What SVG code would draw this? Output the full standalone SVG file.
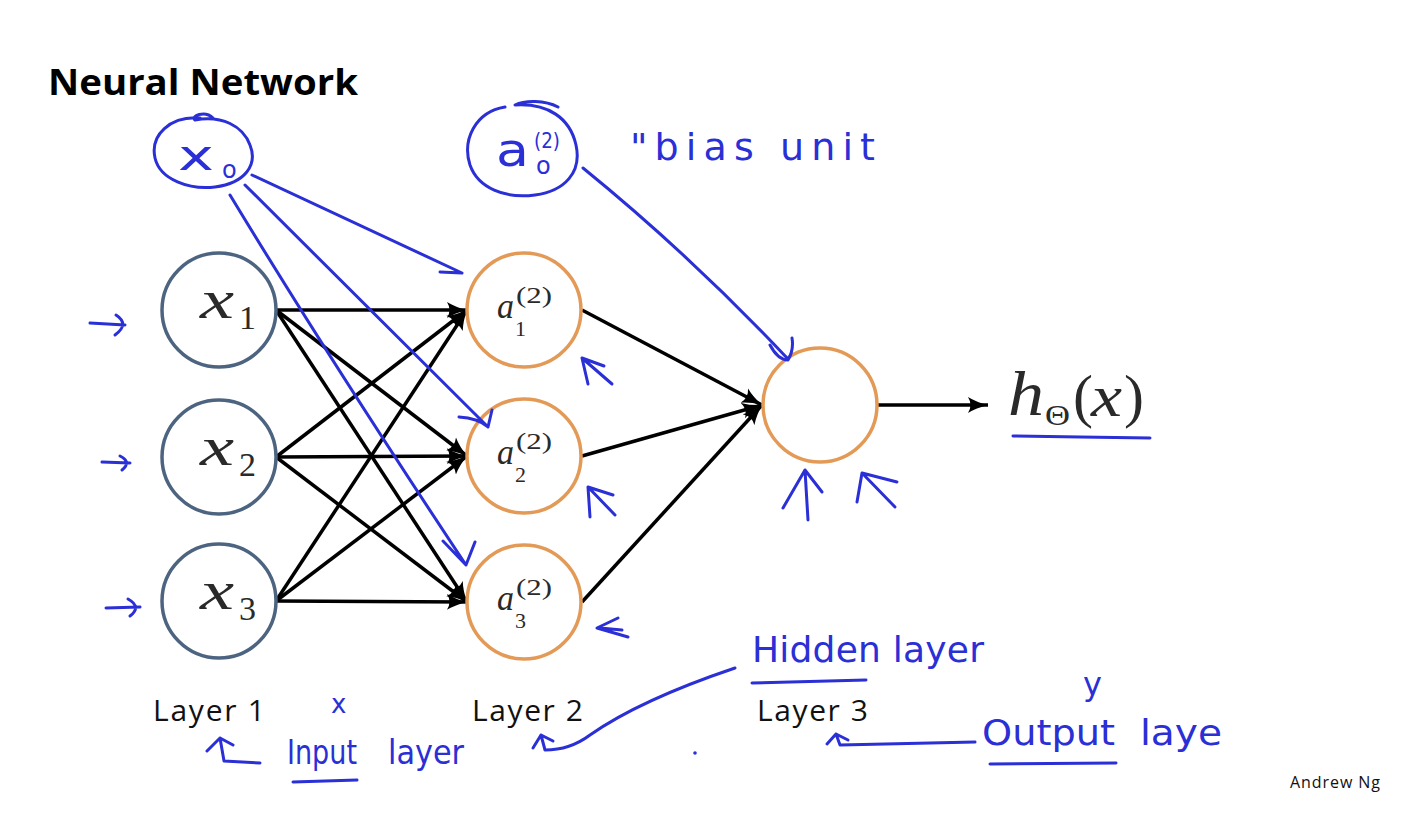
<svg xmlns="http://www.w3.org/2000/svg" width="1428" height="828" viewBox="0 0 1428 828">
<defs>
<marker id="ah" markerUnits="userSpaceOnUse" markerWidth="22" markerHeight="18" refX="20" refY="9" orient="auto">
<path d="M0,1 Q8,6 20,9 Q8,12 0,17 Q5,9 0,1 z" fill="#000"/>
</marker>
<style>
.in{fill:#fff;stroke:#4d6480;stroke-width:3.5}
.hid{fill:#fff;stroke:#e39a57;stroke-width:3.5}
.edge{stroke:#000;stroke-width:3.5;fill:none;marker-end:url(#ah)}
.ink{stroke:#2a2fd6;stroke-width:3;fill:none;stroke-linecap:round;stroke-linejoin:round}
.hw{fill:#2a2fd6;font-family:"DejaVu Sans",sans-serif}
.math{font-family:"Liberation Serif",serif;fill:#2a2a2a}
.lbl{font-family:"Open Sans","Liberation Sans",sans-serif;fill:#111}
</style>
</defs>
<rect width="1428" height="828" fill="#fff"/>
<text x="48" y="95" font-family="Open Sans, Liberation Sans, sans-serif" font-weight="bold" font-size="36" textLength="310" lengthAdjust="spacingAndGlyphs" fill="#000">Neural Network</text>

<g id="connectors">
<path class="edge" d="M276,310 L467,310"/>
<path class="edge" d="M276,310 L467,456"/>
<path class="edge" d="M276,310 L467,602"/>
<path class="edge" d="M276,457 L467,310"/>
<path class="edge" d="M276,457 L467,456"/>
<path class="edge" d="M276,457 L467,602"/>
<path class="edge" d="M276,601 L467,310"/>
<path class="edge" d="M276,601 L467,456"/>
<path class="edge" d="M276,601 L467,602"/>
<path class="edge" d="M582,310 L762,405"/>
<path class="edge" d="M582,456 L762,405"/>
<path class="edge" d="M582,602 L762,405"/>
<path class="edge" d="M877,405 L988,405"/>
</g>

<g id="x1"><circle class="in" cx="219" cy="310" r="57"/><text class="math" x="200" y="318" font-size="54" font-style="italic" textLength="34" lengthAdjust="spacingAndGlyphs">x</text><text class="math" x="239" y="329" font-size="34">1</text></g>
<g id="x2"><circle class="in" cx="219" cy="457" r="57"/><text class="math" x="200" y="465" font-size="54" font-style="italic" textLength="34" lengthAdjust="spacingAndGlyphs">x</text><text class="math" x="239" y="476" font-size="34">2</text></g>
<g id="x3"><circle class="in" cx="219" cy="601" r="57"/><text class="math" x="200" y="609" font-size="54" font-style="italic" textLength="34" lengthAdjust="spacingAndGlyphs">x</text><text class="math" x="239" y="620" font-size="34">3</text></g>

<g id="a1"><circle class="hid" cx="524" cy="310" r="57"/><text class="math" x="497" y="318" font-size="36" font-style="italic" textLength="17" lengthAdjust="spacingAndGlyphs">a</text><text class="math" x="516" y="303" font-size="24" textLength="36" lengthAdjust="spacingAndGlyphs">(2)</text><text class="math" x="515" y="336" font-size="22">1</text></g>
<g id="a2"><circle class="hid" cx="524" cy="456" r="57"/><text class="math" x="497" y="464" font-size="36" font-style="italic" textLength="17" lengthAdjust="spacingAndGlyphs">a</text><text class="math" x="516" y="449" font-size="24" textLength="36" lengthAdjust="spacingAndGlyphs">(2)</text><text class="math" x="515" y="482" font-size="22">2</text></g>
<g id="a3"><circle class="hid" cx="524" cy="602" r="57"/><text class="math" x="497" y="610" font-size="36" font-style="italic" textLength="17" lengthAdjust="spacingAndGlyphs">a</text><text class="math" x="516" y="595" font-size="24" textLength="36" lengthAdjust="spacingAndGlyphs">(2)</text><text class="math" x="515" y="628" font-size="22">3</text></g>

<g id="out"><circle class="hid" cx="820" cy="405" r="57"/></g>

<g id="hypothesis"><text class="math" x="1008" y="415" font-size="64" font-style="italic" textLength="36" lengthAdjust="spacingAndGlyphs">h</text><text class="math" x="1045" y="425" font-size="30" textLength="25" lengthAdjust="spacingAndGlyphs">Θ</text><text class="math" x="1073" y="416" font-size="60">(</text><text class="math" x="1091" y="416" font-size="60" font-style="italic" textLength="31" lengthAdjust="spacingAndGlyphs">x</text><text class="math" x="1124" y="416" font-size="60">)</text>
<path class="ink" d="M1013,436 L1080,437 L1150,438"/></g>

<g id="layer-labels">
<text class="lbl" x="153" y="721" font-size="30" textLength="112">Layer 1</text>
<text class="lbl" x="472" y="721" font-size="30" textLength="111">Layer 2</text>
<text class="lbl" x="757" y="721" font-size="30" textLength="111">Layer 3</text>
<text class="lbl" x="1290" y="788" font-size="16" textLength="90">Andrew Ng</text>
</g>

<g id="bias-x0">
<path class="ink" d="M200,118 C170,116 150,135 155,158 C160,180 190,190 215,187 C245,183 258,165 250,145 C243,126 222,115 195,120 C190,116 205,110 213,118"/>
<text class="hw" x="178" y="170" font-size="42" textLength="36" lengthAdjust="spacingAndGlyphs">x</text>
<text class="hw" x="222" y="178" font-size="24">o</text>
<path class="ink" d="M252,175 L462,273 M440,272 L462,273"/>
<path class="ink" d="M245,185 Q360,300 488,427 M459,417 Q478,418 488,427 L492,410"/>
<path class="ink" d="M230,195 Q330,360 466,565 M443,541 L466,565 L475,542"/>
</g>

<g id="bias-a0">
<path class="ink" d="M505,107 C475,112 462,140 470,165 C478,188 505,199 535,195 C565,191 582,172 576,145 C570,118 548,103 515,105 C525,100 545,100 558,107"/>
<text class="hw" x="496" y="166" font-size="46" textLength="33" lengthAdjust="spacingAndGlyphs">a</text>
<text class="hw" x="534" y="148" font-size="22" textLength="26" lengthAdjust="spacingAndGlyphs">(2)</text>
<text class="hw" x="536" y="174" font-size="24">o</text>
<path class="ink" d="M583,168 Q690,255 787,358 M770,345 Q778,360 788,360 Q794,350 792,338"/>
</g>

<g id="notes">
<text class="hw" x="630" y="160" font-size="38" textLength="245">"bias unit</text>
<text class="hw" x="752" y="662" font-size="36" textLength="232">Hidden layer</text>
<path class="ink" d="M752,683 L866,680"/>
<text class="hw" x="287" y="764" font-size="34" textLength="70" lengthAdjust="spacingAndGlyphs">Input</text>
<text class="hw" x="388" y="764" font-size="34" textLength="76" lengthAdjust="spacingAndGlyphs">layer</text>
<path class="ink" d="M293,782 L357,780"/>
<text class="hw" x="982" y="745" font-size="36" textLength="133" lengthAdjust="spacingAndGlyphs">Output</text>
<text class="hw" x="1140" y="745" font-size="36" textLength="82" lengthAdjust="spacingAndGlyphs">laye</text>
<path class="ink" d="M990,764 L1116,763"/>
<text class="hw" x="1083" y="695" font-size="32">y</text>
<text class="hw" x="331" y="713" font-size="26">x</text>
<circle cx="695" cy="753" r="1.8" fill="#2a2fd6"/>
</g>

<g id="ink-arrows">
<path class="ink" d="M90,323 L125,325 M116,315 Q130,324 115,335"/>
<path class="ink" d="M102,462 L130,463 M120,456 Q132,462 122,470"/>
<path class="ink" d="M106,608 L140,607 M128,599 Q142,607 130,616"/>
<path class="ink" d="M612,384 L582,358 L588,384 M582,358 L604,366"/>
<path class="ink" d="M615,515 L588,487 L590,517 M588,487 L613,495"/>
<path class="ink" d="M618,618 L597,628 L628,637 M600,628 L622,630"/>
<path class="ink" d="M808,520 L805,470 L783,508 M805,470 L822,492"/>
<path class="ink" d="M895,507 L862,473 L857,502 M862,473 L897,482"/>
<path class="ink" d="M260,763 L224,761 L220,738 L207,751 M220,738 L233,745"/>
<path class="ink" d="M735,668 Q640,700 590,735 Q570,750 545,750 L541,735 L533,748 M541,735 L553,741"/>
<path class="ink" d="M975,742 L840,745 L836,734 L827,744 M836,734 L848,740"/>
</g>
</svg>
